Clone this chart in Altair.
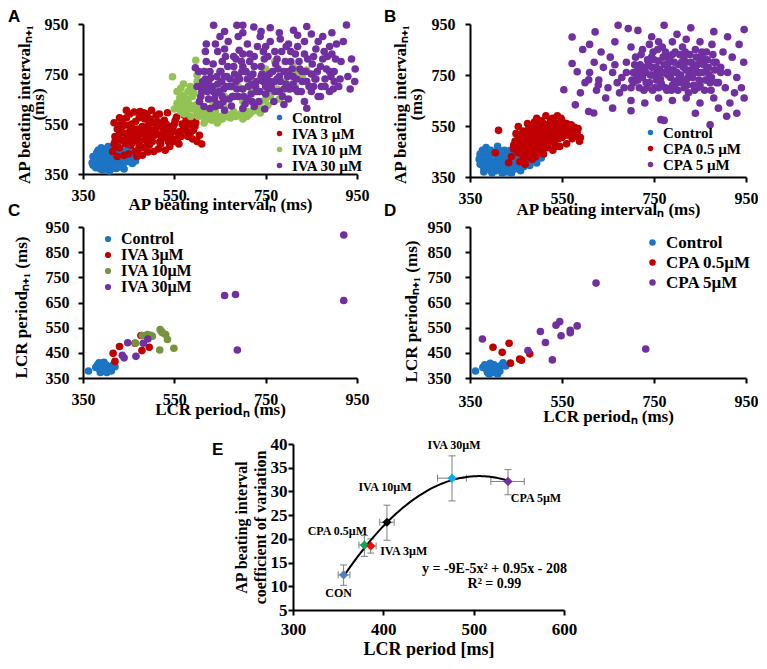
import altair as alt
import pandas as pd

SERIF = "Liberation Serif"
SANS = "Liberation Sans"

# ---------------- Panel A : AP beating interval, ivabradine ----------------
a_names = ["Control", "IVA 3 µM", "IVA 10 µM", "IVA 30 µM"]
a_colors = ["#1c75c4", "#c00000", "#92c353", "#7030a0"]
a_control = [(372,420),(378,400),(385,388),(390,410),(395,430),(380,435),(400,395),(405,380),(410,400),(415,420),
             (420,385),(425,405),(398,372),(388,370),(410,368),(430,378),(435,395),(440,420),(445,440),(420,440),
             (400,450),(392,442),(376,410),(383,425),(402,415),(412,432),(428,450),(450,455),(455,470),(460,440),
             (468,420),(440,370),(418,375),(395,398),(407,405),(385,380),(370,395),(432,430),(448,400),(458,392),
             (465,402),(375,405),(380,415),(388,395),(392,385),(397,420),(403,430),(408,390),(413,410),(417,395),
             (422,425),(427,390),(433,410),(437,385),(442,400),(447,415),(452,430),(383,445),(390,455),(405,460),
             (415,455),(425,465),(372,385),(378,375),(393,365),(408,362),(423,372),(436,442),(453,412),(462,425)]
a_iva3 = [(415,440),(418,470),(420,500),(425,530),(418,555),(430,455),(435,485),(438,515),(440,545),(445,575),
          (450,430),(455,465),(458,495),(462,525),(465,560),(462,598),(470,445),(475,480),(478,510),(480,540),
          (485,570),(490,590),(492,438),(495,465),(498,495),(500,525),(505,555),(510,585),(515,450),(518,478),
          (520,505),(525,535),(528,565),(535,595),(540,460),(545,490),(548,520),(550,550),(555,578),(560,470),
          (565,500),(570,530),(575,560),(580,545),(585,515),(590,490),(595,540),(600,480),(605,505),(610,470),
          (572,585),(588,565),(505,440),(530,445),(475,600),(500,605),(455,540),(430,575),(445,605),(520,470),
          (540,520),(425,420),(440,425),(468,420),(423,460),(428,490),(433,520),(437,545),(443,470),(447,500),
          (452,520),(457,550),(460,480),(467,505),(470,530),(473,465),(483,455),(487,490),(490,515),(493,545),
          (497,570),(502,480),(507,505),(510,535),(513,560),(517,590),(522,490),(527,520),(532,550),(537,480),
          (542,505),(547,535),(552,565),(557,490),(562,520),(567,550),(577,520),(582,580),(592,525),(597,555),
          (473,575),(483,595),(452,590),(436,560),(428,545),(465,440),(480,425),(420,480),(430,510),(445,490),
          (450,545),(460,510),(470,490),(485,525),(490,480),(500,500),(510,520),(520,545),(530,500),(540,540),
          (550,480),(560,505),(570,545),(580,500),(590,550)]
a_iva10 = [(546,739),(597,805),(564,693),(556,633),(564,600),(586,580),(615,554),(644,554),(673,574),(709,580),
           (738,594),(749,647),(840,766),(593,673),(622,706),(658,620),(575,620),(580,650),(590,610),(600,590),
           (605,640),(610,620),(620,600),(630,585),(640,600),(650,580),(660,595),(570,665),(585,700),(600,720),
           (612,680),(625,650),(635,630),(680,600),(695,590),(720,600),(730,620),(700,640),(660,660),(640,690),
           (655,720),(690,700),(720,680),(750,770),(770,800),(745,720),(815,700),(820,760),(780,650),(600,745),
           (620,760),(560,620),(568,640),(572,590),(578,605),(582,630),(590,660),(595,625),(598,605),(603,580),
           (608,600),(614,580),(618,565),(625,575),(632,565),(640,580),(648,565),(655,570),(665,580),(675,590),
           (685,580),(700,585),(715,590),(728,605),(740,610),(755,625),(580,680),(590,690),(570,710),(556,680),
           (562,655),(550,610),(700,570),(710,600),(740,640),(760,660),(775,690),(790,720),(800,690),(830,740),(810,780)]
a_iva30 = [(605,640),(610,680),(612,720),(615,760),(620,700),(625,650),(630,735),(635,790),(640,670),(645,710),
           (650,625),(652,760),(658,690),(662,820),(665,740),(670,650),(675,700),(680,780),(685,720),(690,660),
           (692,845),(698,760),(700,690),(705,630),(710,730),(715,800),(718,670),(722,750),(728,700),(732,860),
           (735,640),(740,780),(745,720),(750,670),(755,820),(758,750),(762,700),(768,640),(772,790),(775,730),
           (780,680),(785,840),(790,760),(795,710),(800,650),(805,800),(810,740),(815,690),(820,860),(825,770),
           (830,720),(835,640),(640,620),(660,605),(700,612),(620,800),(645,840),(668,880),(690,900),(710,870),
           (738,900),(760,880),(782,890),(800,870),(600,700),(603,760),(628,612),(655,660),(675,622),(725,620),
           (748,610),(790,628),(840,613),(842,810),(850,750),(855,700),(860,850),(865,660),(870,780),(875,900),
           (880,730),(885,820),(890,680),(900,760),(905,870),(910,700),(915,800),(930,740),(935,690),(938,810),
           (945,720),(946,770),(927,946),(811,925),(724,938),(687,945),(636,945),(700,945),(760,935),(840,940),
           (895,915),(596,775),(620,870),(650,900),(608,660),(618,730),(622,680),(628,760),(633,700),(638,650),
           (643,740),(648,680),(653,720),(657,640),(663,700),(667,780),(672,730),(677,660),(682,750),(687,690),
           (693,730),(697,800),(702,660),(707,760),(712,700),(717,740),(720,640),(725,780),(730,720),(737,680),
           (742,750),(747,810),(752,740),(757,690),(765,760),(770,720),(777,770),(782,720),(787,660),(793,800),
           (798,740),(803,690),(808,770),(818,730),(823,800),(828,680),(838,760),(845,700),(852,790),(858,730),
           (863,760),(872,700),(878,840),(883,770),(893,740),(898,690),(903,810),(913,730),(618,840),(640,870),
           (660,850),(680,820),(700,830),(725,820),(750,860),(770,840),(795,860),(815,830),(835,880),(855,820),
           (875,810),(660,920),(700,915),(740,920),(780,915),(820,905),(850,910),(890,860),(920,880),(610,700),
           (615,620),(625,720),(635,680),(645,630),(650,760),(660,740),(670,700),(680,660),(690,740),(700,780),
           (710,650),(720,710),(730,680),(740,740),(750,700),(760,720),(770,680),(780,740),(790,690),(800,760),
           (810,710),(820,680),(830,760),(840,720),(850,680),(860,730),(870,660),(880,700),(890,760),(900,720),
           (655,800),(685,810),(715,830),(745,840),(775,810),(805,840),(835,830),(865,880),(895,830)]

# ---------------- Panel B : AP beating interval, CPA ----------------
b_names = ["Control", "CPA 0.5 µM", "CPA 5 µM"]
b_colors = ["#1c75c4", "#c00000", "#7030a0"]
b_control = [(370,420),(375,400),(380,385),(385,430),(390,410),(395,375),(400,395),(405,440),(410,420),(415,380),
             (420,400),(425,455),(430,370),(435,390),(440,410),(445,430),(450,445),(455,395),(460,375),(465,415),
             (470,440),(475,460),(480,395),(490,420),(385,465),(395,455),(410,470),(380,370),(398,365),(420,365),
             (440,365),(372,440),(388,398),(402,412),(418,428),(432,446),(448,382),(462,400),(405,385),(428,418),
             (495,405),(505,425),(378,410),(383,395),(392,420),(397,440),(403,405),(407,375),(412,395),(417,445),
             (422,415),(427,380),(432,430),(437,400),(442,380),(447,420),(452,405),(457,430),(467,390),(472,420),
             (482,430),(487,450),(377,455),(392,385),(413,455),(438,455),(458,455),(372,400),(387,445),(425,440)]
b_cpa05 = [(412,533),(405,445),(434,406),(440,430),(445,460),(448,490),(450,520),(455,445),(460,470),(462,500),
           (465,530),(468,425),(470,455),(472,485),(475,515),(478,545),(480,440),(485,470),(488,500),(490,530),
           (492,555),(495,455),(498,485),(500,515),(503,545),(505,570),(508,465),(512,495),(515,525),(518,555),
           (520,480),(525,510),(528,540),(532,565),(535,495),(540,525),(545,550),(548,580),(550,505),(555,535),
           (560,560),(562,515),(568,545),(572,500),(578,530),(582,510),(588,490),(590,505),(485,420),(510,440),
           (530,455),(545,470),(560,480),(458,410),(470,400),(525,575),(540,590),(515,590),(495,580),(475,560),
           (455,548),(500,460),(520,500),(535,470),(452,470),(457,495),(463,515),(467,480),(473,500),(477,530),
           (482,455),(483,485),(487,515),(493,470),(495,540),(497,500),(502,530),(507,480),(510,510),(513,540),
           (517,495),(522,525),(527,555),(530,490),(533,520),(538,545),(542,500),(547,520),(552,545),(557,515),
           (563,535),(567,520),(573,520),(577,545),(583,525),(462,440),(478,430),(493,430),(505,450),(518,465),
           (490,565),(510,560),(530,580),(550,570),(570,555),(585,540),(445,475),(455,510),(465,495),(475,470),
           (480,510),(490,490),(500,500),(505,530),(515,505),(525,495),(535,535),(545,510),(555,550),(565,530),
           (575,510),(520,540),(540,560),(500,550)]
b_cpa5 = [(700,700),(705,760),(710,820),(715,730),(720,790),(725,850),(728,690),(732,760),(736,810),(740,720),
          (745,780),(748,840),(752,700),(756,760),(760,805),(764,735),(768,860),(772,790),(775,700),(780,750),
          (784,820),(788,690),(792,770),(796,840),(800,720),(804,790),(808,750),(812,860),(816,700),(820,800),
          (824,740),(828,830),(832,770),(836,710),(840,850),(844,790),(848,730),(852,810),(856,760),(860,690),
          (864,840),(868,780),(872,720),(876,870),(880,800),(740,870),(760,880),(790,880),(820,890),(850,880),
          (700,860),(690,800),(680,740),(675,680),(660,760),(655,820),(650,700),(645,660),(640,780),(635,840),
          (630,730),(625,690),(620,800),(610,760),(600,720),(595,850),(590,680),(700,650),(730,640),(760,660),
          (790,650),(820,660),(850,640),(880,660),(890,720),(895,780),(900,840),(905,700),(910,760),(915,640),
          (920,820),(925,680),(930,740),(935,870),(940,700),(945,800),(946,660),(572,899),(622,919),(672,945),
          (694,932),(715,925),(772,945),(830,935),(880,920),(946,928),(554,692),(579,633),(608,607),(619,601),
          (765,575),(772,572),(872,555),(908,588),(572,795),(583,763),(608,731),(629,711),(660,620),(700,610),
          (840,600),(890,620),(930,600),(665,880),(745,900),(800,910),(910,900),(610,870),(702,730),(708,790),
          (712,750),(718,700),(722,830),(727,770),(733,720),(738,800),(742,750),(747,690),(750,810),(755,730),
          (758,850),(762,770),(767,710),(770,820),(774,760),(778,690),(782,800),(786,740),(790,710),(794,800),
          (798,760),(802,690),(806,830),(810,720),(814,780),(818,840),(822,710),(826,760),(830,800),(834,740),
          (838,690),(842,820),(846,760),(850,710),(854,840),(858,790),(862,730),(866,810),(870,750),(874,690),
          (878,830),(882,770),(886,720),(720,760),(760,740),(800,760),(840,770),(780,780),(820,770),(745,750),
          (795,725),(835,790),(690,760),(685,700),(670,720),(665,790),(705,720),(715,780),(725,740),(735,700),
          (745,820),(755,780),(765,720),(775,840),(785,760),(795,700),(805,740),(815,820),(825,680),(835,760),
          (845,700),(855,820),(865,770),(875,740),(885,800),(895,760),(730,780),(770,760),(810,800),(850,760),
          (790,830),(760,700),(820,730),(740,810)]

# ---------------- Panel C : LCR period, ivabradine ----------------
c_names = ["Control", "IVA 3µM", "IVA 10µM", "IVA 30µM"]
c_colors = ["#1c75c4", "#c00000", "#77933c", "#7030a0"]
c_control = [(362,378),(378,392),(382,402),(386,385),(390,398),(392,408),(395,378),(398,392),(400,402),(404,383),
             (406,395),(410,388),(412,378),(415,400),(418,405),(388,372),(402,372),(420,395),(385,410),(396,412)]
c_iva3 = [(416,448),(420,416),(430,475),(464,488),(477,519),(479,459),(495,472)]
c_iva10 = [(465,489),(480,519),(491,523),(502,516),(519,542),(522,535),(524,530),(531,523),(535,503),(518,461),
           (549,468),(498,520)]
c_iva30 = [(436,440),(440,430),(448,490),(466,436),(482,488),(492,505),(660,678),(684,682),(688,461),(921,918),(921,658)]

# ---------------- Panel D : LCR period, CPA ----------------
d_names = ["Control", "CPA 0.5µM", "CPA 5µM"]
d_colors = ["#1c75c4", "#c00000", "#7030a0"]
d_control = [(362,378),(378,392),(382,402),(386,385),(390,398),(394,408),(396,378),(398,392),(402,402),(405,383),
             (408,395),(412,388),(415,378),(418,400),(422,410),(388,372),(402,372),(428,398),(392,365),(410,365)]
d_cpa05 = [(400,472),(435,488),(420,452),(438,409),(458,425),(462,421),(480,446)]
d_cpa5 = [(377,505),(476,459),(503,535),(514,491),(529,422),(537,560),(545,574),(548,518),(568,540),(568,530),
          (583,557),(624,727),(732,465)]

# ---------------- Panel E : CV vs LCR period ----------------
e_names = ["CON", "CPA 0.5µM", "IVA 3µM", "IVA 10µM", "IVA 30µM", "CPA 5µM"]
e_colors = ["#4f81bd", "#00b050", "#ff0000", "#000000", "#00b0f0", "#7030a0"]
e_x = [356, 379, 386, 404, 476, 538]
e_y = [12.4, 18.7, 18.5, 23.5, 32.8, 32.1]
e_xlo = [350, 373, 379, 396, 460, 519]
e_xhi = [363, 385, 392, 412, 492, 556]
e_ylo = [10.2, 16.3, 17.0, 19.7, 28.0, 29.3]
e_yhi = [14.5, 20.7, 20.0, 27.1, 37.5, 34.6]
eq_text = ["y = -9E-5x² + 0.95x - 208", "R² = 0.99"]
eq_x = [523, 523]
eq_y = [13.7, 10.4]


def frame(names, groups):
    rows = []
    for name, pts in zip(names, groups):
        for x, y in pts:
            rows.append({"x": x, "y": y, "g": name})
    return pd.DataFrame(rows)


def letter(t, dx, dy):
    return alt.TitleParams(t, anchor="start", frame="group", dx=dx, dy=dy, offset=0,
                           font=SANS, fontSize=17, fontWeight="bold", color="black",
                           baseline="alphabetic")


LAB = dict(labelFont=SERIF, labelFontWeight="bold", labelColor="black")


def scatter(df, names, colors, w, h, yvals, xt, yt, xax, yax, leg, ttl):
    legend = alt.Legend(title=None, orient="none", legendX=leg[0], legendY=leg[1],
                        labelFont=SERIF, labelFontWeight="bold", labelFontSize=leg[2],
                        labelColor="black", symbolType="circle", symbolSize=leg[3],
                        symbolStrokeWidth=0, rowPadding=leg[4], labelOffset=5, padding=0)
    sc = alt.Scale(domain=[350, 950], nice=False, zero=False)
    return alt.Chart(df).mark_circle(size=58, opacity=1).encode(
        x=alt.X("x:Q", scale=sc, axis=alt.Axis(values=[350, 550, 750, 950], title=xt, **LAB, **xax)),
        y=alt.Y("y:Q", scale=sc, axis=alt.Axis(values=yvals, title=yt, **LAB, **yax)),
        color=alt.Color("g:N", scale=alt.Scale(domain=names, range=colors), legend=legend),
    ).properties(width=w, height=h, title=ttl)


ticks_ab = [350, 550, 750, 950]
ticks_cd = [350, 450, 550, 650, 750, 850, 950]
ap_x = "AP beating intervalₙ (ms)"
ap_y = ["AP beating intervalₙ₊₁", "(ms)"]
lcr_x = "LCR periodₙ (ms)"
lcr_y = "LCR periodₙ₊₁ (ms)"

A = scatter(frame(a_names, [a_control, a_iva3, a_iva10, a_iva30]), a_names, a_colors, 274, 150, ticks_ab,
            ap_x, ap_y,
            dict(labelFontSize=16, labelPadding=8, titleFontSize=17, titleY=22),
            dict(labelFontSize=16, labelPadding=10, titleFontSize=17, titleX=-50, titleY=80,
                 titleLineHeight=14, titleBaseline="bottom"),
            (189, 86, 15, 30, 0), letter("A", -75, 23))
B = scatter(frame(b_names, [b_control, b_cpa05, b_cpa5]), b_names, b_colors, 276, 153, ticks_ab,
            ap_x, ap_y,
            dict(labelFontSize=16, labelPadding=8, titleFontSize=17, titleY=24),
            dict(labelFontSize=16, labelPadding=10, titleFontSize=17, titleX=-61, titleY=80,
                 titleLineHeight=16, titleBaseline="bottom"),
            (173, 101, 15, 30, 0), letter("B", -86, 23))
C = scatter(frame(c_names, [c_control, c_iva3, c_iva10, c_iva30]), c_names, c_colors, 274, 151, ticks_cd,
            lcr_x, lcr_y,
            dict(labelFontSize=16, labelPadding=8, titleFontSize=17, titleY=23),
            dict(labelFontSize=16, labelPadding=9, titleFontSize=17, titleX=-53, titleY=80,
                 titleBaseline="bottom"),
            (17, 4, 16, 38, 0), letter("C", -75, 14))
D = scatter(frame(d_names, [d_control, d_cpa05, d_cpa5]), d_names, d_colors, 276, 151, ticks_cd,
            lcr_x, lcr_y,
            dict(labelFontSize=16, labelPadding=10, titleFontSize=17, titleY=30),
            dict(labelFontSize=16, labelPadding=14, titleFontSize=17, titleX=-50, titleY=84,
                 titleBaseline="bottom"),
            (174, 7, 17, 42, 2), letter("D", -86, 14))

# ---- Panel E ----
# E sits in the first grid column; its plot area is offset inside the cell via the scale range.
E_LEFT, E_W = 210, 271
e_df = pd.DataFrame({"name": e_names, "x": e_x, "y": e_y, "xlo": e_xlo, "xhi": e_xhi,
                     "ylo": e_ylo, "yhi": e_yhi})
eq_df = pd.DataFrame({"t": eq_text, "x": eq_x, "y": eq_y})
xs = alt.Scale(domain=[300, 600], nice=False, zero=False, range=[E_LEFT, E_LEFT + E_W])
ys = alt.Scale(domain=[5, 40], nice=False, zero=False)
xax_e = alt.Axis(values=[300, 400, 500, 600], title="LCR period [ms]", labelFontSize=17, labelPadding=6,
                 titleFontSize=18, titleY=30, **LAB)
yax_e = alt.Axis(values=[5, 10, 15, 20, 25, 30, 35, 40], title=["AP beating interval", "coefficient of variation"],
                 labelFontSize=17, labelPadding=1, titleFontSize=16, titleLineHeight=19, titleX=-44,
                 titleY=83, titleBaseline="bottom", offset=-E_LEFT, **LAB)
GRAY = "#7f7f7f"
base = alt.Chart(e_df)
err_y = base.mark_rule(color=GRAY, strokeWidth=1).encode(
    x=alt.X("x:Q", scale=xs, axis=xax_e), y=alt.Y("ylo:Q", scale=ys, axis=yax_e), y2="yhi:Q")
err_x = base.mark_rule(color=GRAY, strokeWidth=1).encode(
    x=alt.X("xlo:Q", scale=xs, axis=xax_e), x2="xhi:Q", y=alt.Y("y:Q", scale=ys, axis=yax_e))
cap_y = base.transform_fold(["ylo", "yhi"], as_=["k", "v"]).mark_point(
    shape="M-1,0L1,0", size=49, strokeWidth=1, color=GRAY, filled=False, opacity=1).encode(
    x=alt.X("x:Q", scale=xs, axis=xax_e), y=alt.Y("v:Q", scale=ys, axis=yax_e))
cap_x = base.transform_fold(["xlo", "xhi"], as_=["k", "v"]).mark_point(
    shape="M0,-1L0,1", size=49, strokeWidth=1, color=GRAY, filled=False, opacity=1).encode(
    x=alt.X("v:Q", scale=xs, axis=xax_e), y=alt.Y("y:Q", scale=ys, axis=yax_e))
fit = base.transform_regression("x", "y", method="poly", order=2).mark_line(
    color="black", strokeWidth=2).encode(
    x=alt.X("x:Q", scale=xs, axis=xax_e), y=alt.Y("y:Q", scale=ys, axis=yax_e))
dots = base.mark_point(shape="diamond", filled=True, size=85, opacity=1).encode(
    x=alt.X("x:Q", scale=xs, axis=xax_e), y=alt.Y("y:Q", scale=ys, axis=yax_e),
    color=alt.Color("name:N", scale=alt.Scale(domain=e_names, range=e_colors), legend=None))
label_offsets = {"CON": (-5, 18), "CPA 0.5µM": (-27, -14), "IVA 3µM": (33, 5),
                 "IVA 10µM": (-2, -35), "IVA 30µM": (2, -33), "CPA 5µM": (28, 17)}
labels = []
for n in e_names:
    ddx, ddy = label_offsets[n]
    labels.append(base.transform_filter(alt.datum.name == n).mark_text(
        dx=ddx, dy=ddy, font=SERIF, fontWeight="bold", fontSize=12, color="black").encode(
        x=alt.X("x:Q", scale=xs, axis=xax_e), y=alt.Y("y:Q", scale=ys, axis=yax_e), text="name:N"))
eq = alt.Chart(eq_df).mark_text(font=SERIF, fontWeight="bold", fontSize=14, color="black").encode(
    x=alt.X("x:Q", scale=xs, axis=xax_e), y=alt.Y("y:Q", scale=ys, axis=yax_e), text="t:N")
E = alt.layer(err_y, err_x, cap_y, cap_x, fit, dots, *labels, eq).properties(
    width=274, height=166, title=letter("E", E_LEFT - 81, 37))


def spacer(w, h):
    return alt.Chart(pd.DataFrame({"v": [0]})).mark_point(opacity=0).encode(
        x=alt.value(0), y=alt.value(0)).properties(width=w, height=h)


chart = alt.concat(
    A, B,
    spacer(1, 50), spacer(1, 50),
    C, D,
    spacer(1, 66), spacer(1, 66),
    E, spacer(1, 1),
    columns=2, spacing={"row": 0, "column": 113}, bounds="flush",
).resolve_scale(color="independent").resolve_legend(color="independent").configure_axis(
    domainColor="black", domainWidth=2, tickColor="black", tickWidth=2, tickSize=5, grid=False,
    labelFont=SERIF, labelFontWeight="bold", labelColor="black", labelFlush=False, labelOverlap=False,
    titleFont=SERIF, titleFontWeight="bold", titleColor="black",
).configure_view(stroke=None).properties(padding=0, background="white")

chart.save("out.html", embed_options={"renderer": "svg", "actions": False})
